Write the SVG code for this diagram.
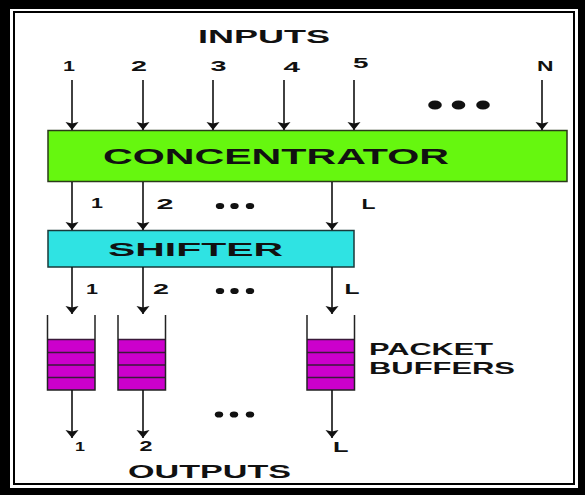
<svg xmlns="http://www.w3.org/2000/svg" width="585" height="495" viewBox="0 0 585 495">
<style>
.t{font-family:"Liberation Sans",Arial,sans-serif;font-weight:bold;fill:#111;}
.c{stroke:#111;stroke-width:1.6;fill:none;marker-end:url(#ah);}
.w{stroke:#222;stroke-width:1.5;fill:none;}
.sl{stroke:#3a1a3a;stroke-width:1.3;}
.dot{fill:#111;}
</style>
<defs>
<marker id="ah" markerUnits="userSpaceOnUse" viewBox="-9 -7 10 14" refX="0" refY="0" markerWidth="10" markerHeight="14" orient="auto">
<path d="M0,0 L-8,-6.5 L-6.5,0 L-8,6.5 z" fill="#111"/>
</marker>
</defs>
<rect x="0" y="0" width="585" height="495" fill="#000"/>
<rect x="10" y="9" width="568" height="479" fill="#fff"/>
<rect x="14" y="12" width="560" height="472" fill="#fff" stroke="#000" stroke-width="2"/>

<g id="title-inputs">
<text class="t" x="198" y="43" font-size="18" textLength="132" lengthAdjust="spacingAndGlyphs">INPUTS</text>
<text class="t" x="63" y="71" font-size="14" textLength="12" lengthAdjust="spacingAndGlyphs">1</text>
<text class="t" x="131" y="71" font-size="14" textLength="16" lengthAdjust="spacingAndGlyphs">2</text>
<text class="t" x="210.5" y="71" font-size="14" textLength="16" lengthAdjust="spacingAndGlyphs">3</text>
<text class="t" x="283.5" y="71.5" font-size="14" textLength="16.5" lengthAdjust="spacingAndGlyphs">4</text>
<text class="t" x="353" y="67.5" font-size="14" textLength="15.5" lengthAdjust="spacingAndGlyphs">5</text>
<text class="t" x="537" y="71" font-size="14" textLength="16.5" lengthAdjust="spacingAndGlyphs">N</text>
<ellipse class="dot" cx="435" cy="105" rx="6.8" ry="4.6"/>
<ellipse class="dot" cx="458.5" cy="105" rx="6.8" ry="4.6"/>
<ellipse class="dot" cx="483" cy="105" rx="6.8" ry="4.6"/>
</g>

<g id="concentrator">
<rect x="48" y="130.5" width="519" height="51" fill="#66f70f" stroke="#2a3a1a" stroke-width="1.5"/>
<text class="t" x="103" y="163.5" font-size="21.5" textLength="346" lengthAdjust="spacingAndGlyphs">CONCENTRATOR</text>
</g>

<g id="shifter">
<rect x="48" y="230.5" width="306" height="36.5" fill="#2fe3e3" stroke="#1a3a3a" stroke-width="1.5"/>
<text class="t" x="108" y="255.5" font-size="18.5" textLength="175" lengthAdjust="spacingAndGlyphs">SHIFTER</text>
</g>

<g id="mid-labels">
<text class="t" x="91" y="208" font-size="14" textLength="12" lengthAdjust="spacingAndGlyphs">1</text>
<text class="t" x="156.5" y="208.5" font-size="14" textLength="17" lengthAdjust="spacingAndGlyphs">2</text>
<ellipse class="dot" cx="220" cy="206" rx="4.2" ry="3.1"/>
<ellipse class="dot" cx="234.5" cy="206" rx="4.2" ry="3.1"/>
<ellipse class="dot" cx="250" cy="206" rx="4.2" ry="3.1"/>
<text class="t" x="361.5" y="208.5" font-size="14" textLength="14" lengthAdjust="spacingAndGlyphs">L</text>
<text class="t" x="86" y="294" font-size="14" textLength="12" lengthAdjust="spacingAndGlyphs">1</text>
<text class="t" x="153" y="293.5" font-size="14" textLength="16" lengthAdjust="spacingAndGlyphs">2</text>
<ellipse class="dot" cx="220" cy="291" rx="4.2" ry="3.1"/>
<ellipse class="dot" cx="234.5" cy="291" rx="4.2" ry="3.1"/>
<ellipse class="dot" cx="250" cy="291" rx="4.2" ry="3.1"/>
<text class="t" x="344.5" y="294" font-size="14" textLength="15" lengthAdjust="spacingAndGlyphs">L</text>
</g>

<g id="buffer1">
<rect x="47.5" y="339.5" width="47.5" height="50.5" fill="#cc00cc"/>
<line class="sl" x1="47.5" y1="352.5" x2="95" y2="352.5"/>
<line class="sl" x1="47.5" y1="365" x2="95" y2="365"/>
<line class="sl" x1="47.5" y1="377.5" x2="95" y2="377.5"/>
<line class="sl" x1="47.5" y1="339.5" x2="95" y2="339.5"/>
<path class="w" d="M47.5,315 V390 H95 V315"/>
</g>
<g id="buffer2">
<rect x="118" y="339.5" width="47.5" height="50.5" fill="#cc00cc"/>
<line class="sl" x1="118" y1="352.5" x2="165.5" y2="352.5"/>
<line class="sl" x1="118" y1="365" x2="165.5" y2="365"/>
<line class="sl" x1="118" y1="377.5" x2="165.5" y2="377.5"/>
<line class="sl" x1="118" y1="339.5" x2="165.5" y2="339.5"/>
<path class="w" d="M118,315 V390 H165.5 V315"/>
</g>
<g id="bufferL">
<rect x="307" y="339.5" width="47.5" height="50.5" fill="#cc00cc"/>
<line class="sl" x1="307" y1="352.5" x2="354.5" y2="352.5"/>
<line class="sl" x1="307" y1="365" x2="354.5" y2="365"/>
<line class="sl" x1="307" y1="377.5" x2="354.5" y2="377.5"/>
<line class="sl" x1="307" y1="339.5" x2="354.5" y2="339.5"/>
<path class="w" d="M307,315 V390 H354.5 V315"/>
</g>

<g id="buffer-label">
<text class="t" x="369" y="355" font-size="16.5" textLength="124" lengthAdjust="spacingAndGlyphs">PACKET</text>
<text class="t" x="369" y="374" font-size="16.5" textLength="146" lengthAdjust="spacingAndGlyphs">BUFFERS</text>
</g>

<g id="outputs">
<text class="t" x="75" y="450.5" font-size="13.5" textLength="10" lengthAdjust="spacingAndGlyphs">1</text>
<text class="t" x="139.5" y="451" font-size="14" textLength="13" lengthAdjust="spacingAndGlyphs">2</text>
<text class="t" x="333" y="452" font-size="14.5" textLength="15.5" lengthAdjust="spacingAndGlyphs">L</text>
<ellipse class="dot" cx="219" cy="414.5" rx="4.2" ry="3.1"/>
<ellipse class="dot" cx="234" cy="414.5" rx="4.2" ry="3.1"/>
<ellipse class="dot" cx="250" cy="414.5" rx="4.2" ry="3.1"/>
<text class="t" x="128" y="477.5" font-size="18.5" textLength="163" lengthAdjust="spacingAndGlyphs">OUTPUTS</text>
</g>

<g id="connectors">
<line class="c" x1="72" y1="80" x2="72" y2="130"/>
<line class="c" x1="143" y1="80" x2="143" y2="130"/>
<line class="c" x1="213" y1="80" x2="213" y2="130"/>
<line class="c" x1="284" y1="80" x2="284" y2="130"/>
<line class="c" x1="354" y1="80" x2="354" y2="130"/>
<line class="c" x1="542" y1="80" x2="542" y2="130"/>
<line class="c" x1="72" y1="182" x2="72" y2="230"/>
<line class="c" x1="143" y1="182" x2="143" y2="230"/>
<line class="c" x1="332" y1="182" x2="332" y2="230"/>
<line class="c" x1="72" y1="267" x2="72" y2="314"/>
<line class="c" x1="143" y1="267" x2="143" y2="314"/>
<line class="c" x1="332" y1="267" x2="332" y2="314"/>
<line class="c" x1="72" y1="390" x2="72" y2="438"/>
<line class="c" x1="143" y1="390" x2="143" y2="438"/>
<line class="c" x1="332" y1="390" x2="332" y2="438"/>
</g>
</svg>
